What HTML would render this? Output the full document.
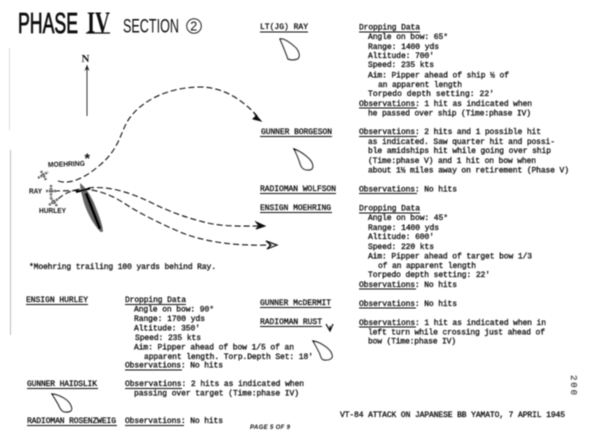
<!DOCTYPE html>
<html>
<head>
<meta charset="utf-8">
<style>
html,body{margin:0;padding:0;background:#fff;width:600px;height:438px;overflow:hidden}
svg{display:block}
.t{font-family:"Liberation Mono",monospace;font-size:8px;fill:#111;stroke:#111;stroke-width:.3}
.h{font-family:"Liberation Sans",sans-serif;fill:#111}
.s{font-family:"Liberation Sans",sans-serif;font-size:7px;font-weight:bold;fill:#111}
.d{fill:none;stroke:#111;stroke-width:1.1;stroke-dasharray:6 3}
.u{stroke:#111;stroke-width:1}
.p{fill:#fff;stroke:#000;stroke-width:1.2}
</style>
</head>
<body>
<svg width="600" height="438" viewBox="0 0 600 438" xmlns="http://www.w3.org/2000/svg">
<defs><filter id="b" x="-5%" y="-5%" width="110%" height="110%"><feGaussianBlur stdDeviation="0.4"/></filter></defs>
<rect width="600" height="438" fill="#fff"/>
<g filter="url(#b)">
<line x1="10.500" y1="150" x2="10.500" y2="335" stroke="#bbb" stroke-width="1"/>
<line x1="9.500" y1="48" x2="9.500" y2="130" stroke="#ddd" stroke-width="1"/>

<!-- Title -->
<text class="h" x="18" y="33" font-size="29" textLength="60" lengthAdjust="spacingAndGlyphs" stroke="#111" stroke-width=".8">PHASE</text>
<text x="87" y="32.500" font-family="Liberation Serif,serif" font-size="31" font-weight="bold" fill="#111" textLength="23" lengthAdjust="spacingAndGlyphs">IV</text>
<line x1="86" y1="33" x2="110" y2="33" stroke="#111" stroke-width="1.200"/>
<text class="h" x="123" y="32.500" font-size="19" textLength="56" lengthAdjust="spacingAndGlyphs">SECTION</text>
<circle cx="194" cy="26" r="7.300" fill="none" stroke="#222" stroke-width="1"/>
<text class="h" x="190.200" y="30.500" font-size="12.500">2</text>

<!-- North arrow -->
<text x="81.500" y="62" font-family="Liberation Serif,serif" font-size="11" font-weight="bold" fill="#111">N</text>
<line x1="87" y1="116" x2="87" y2="67" stroke="#333" stroke-width="1"/>
<path d="M84.500 71 L87 64.500 L89.500 71 L87 69Z" fill="#222"/>

<!-- Paths -->
<path class="d" d="M58 181 C70 185 85 178 100 165 C118 150 120 135 127 122 C140 100 170 87 200 87 C225 87 245 102 258 117"/>
<path d="M254 113 L261 121 L253 119 L256 116Z" fill="#111" stroke="#111" stroke-width="1"/>
<path class="d" d="M54 191 L80 190.500"/>
<path class="d" d="M88 188 C105 186 125 190 150 202 C170 212 185 217 200 221 C220 227 240 226 258 226"/>
<path d="M256 222 L265 226 L256 229 L259 226Z" fill="#111" stroke="#111"/>
<path class="d" d="M58 199 C66 192 75 189 85 189 C105 191 118 199 130 207 C145 216 165 226 185 234 C210 243 240 246 270 245"/>
<path d="M266 241 L277 245 L267 249 L271 245Z" fill="none" stroke="#111" stroke-width="1.200"/>

<!-- Ship -->
<path d="M80 183 C85 187 90 194 94 203 C98 213 102 222 103 231 C102 233 100 232 98 229 C92 222 87 212 84 203 C82 195 80 189 80 183Z" fill="#666"/>
<path d="M86 193 L100 229" stroke="#000" stroke-width="3"/>
<path d="M76 192 L90 188.500" stroke="#000" stroke-width="2"/>

<!-- Aircraft -->
<g stroke="#666" stroke-width="2.400" stroke-dasharray="2 .8" fill="none">
<path d="M38 178 L48 172"/><path d="M41 171 L46 180"/>
<path d="M51 185 L51 197"/><path d="M46 191 L56 191"/>
<path d="M57 206 L50 197"/><path d="M49 205 L58 199"/>
</g>
<text class="s" x="48" y="167" transform="rotate(-2 48 167)" textLength="37" lengthAdjust="spacingAndGlyphs">MOEHRING</text>
<text x="84.500" y="163" font-family="Liberation Sans,sans-serif" font-size="14" font-weight="bold" fill="#111">*</text>
<text class="s" x="29" y="193.500" textLength="13" lengthAdjust="spacingAndGlyphs">RAY</text>
<text class="s" x="39" y="213" textLength="27" lengthAdjust="spacingAndGlyphs">HURLEY</text>

<!-- Note -->
<text class="t" x="29" y="269" textLength="187" lengthAdjust="spacing">*Moehring trailing 100 yards behind Ray.</text>

<!-- Name labels -->
<text class="t" x="260" y="29" textLength="48" lengthAdjust="spacing">LT(JG) RAY</text><line class="u" x1="260" y1="32" x2="308" y2="32"/>
<text class="t" x="261" y="134" textLength="71" lengthAdjust="spacing">GUNNER BORGESON</text><line class="u" x1="260" y1="136.500" x2="332" y2="136.500"/>
<text class="t" x="260" y="191" textLength="76" lengthAdjust="spacing">RADIOMAN WOLFSON</text><line class="u" x1="260" y1="193.500" x2="336" y2="193.500"/>
<text class="t" x="260" y="210" textLength="71" lengthAdjust="spacing">ENSIGN MOEHRING</text><line class="u" x1="260" y1="212.500" x2="332" y2="212.500"/>
<text class="t" x="26" y="302" textLength="62" lengthAdjust="spacing">ENSIGN HURLEY</text><line class="u" x1="26" y1="304.500" x2="88" y2="304.500"/>
<text class="t" x="260" y="305" textLength="71" lengthAdjust="spacing">GUNNER McDERMIT</text><line class="u" x1="260" y1="307.500" x2="331" y2="307.500"/>
<text class="t" x="260" y="324" textLength="62" lengthAdjust="spacing">RADIOMAN RUST</text><line class="u" x1="260" y1="326.500" x2="322" y2="326.500"/>
<text class="t" x="27" y="386" textLength="70" lengthAdjust="spacing">GUNNER HAIDSLIK</text><line class="u" x1="27" y1="388.500" x2="98" y2="388.500"/>
<text class="t" x="27" y="423" textLength="89" lengthAdjust="spacing">RADIOMAN ROSENZWEIG</text><line class="u" x1="27" y1="425.500" x2="117" y2="425.500"/>

<!-- Ship outlines -->
<path class="p" d="M280 39 C284 38 292 44 296 48 C300 53 300 58 297 59 C294 60 291 60 288 59 C286 53 283 46 280 39Z"/>
<path class="p" d="M294 149 C300 151 310 158 312 163 C314 168 312 170 308 170 C304 170 302 168 301 166 C299 160 297 154 294 149Z"/>
<path class="p" d="M52 394 C60 395 69 400 71 406 C73 411 70 412 66 412 C63 412 62 411 60 408 C58 403 55 399 52 394Z"/>
<path class="p" d="M313 341 C320 342 331 349 332 355 C333 359 329 360 325 360 C322 360 321 358 320 354 C318 350 316 346 313 341Z"/>
<path d="M326 324 L330 331 L333 324 M330 326 V331" fill="none" stroke="#111" stroke-width="1.200"/>

<!-- Data: right column -->
<text class="t" x="359" y="29.500" textLength="61" lengthAdjust="spacing">Dropping Data</text><line class="u" x1="359" y1="32" x2="420" y2="32"/>
<text class="t" x="368" y="39" textLength="80" lengthAdjust="spacing">Angle on bow: 65°</text>
<text class="t" x="368" y="49" textLength="71" lengthAdjust="spacing">Range: 1400 yds</text>
<text class="t" x="368" y="58" textLength="66" lengthAdjust="spacing">Altitude: 700'</text>
<text class="t" x="368" y="67" textLength="66" lengthAdjust="spacing">Speed: 235 kts</text>
<text class="t" x="368" y="77.500" textLength="141" lengthAdjust="spacing">Aim: Pipper ahead of ship ½ of</text>
<text class="t" x="378" y="87" textLength="84" lengthAdjust="spacing">an apparent length</text>
<text class="t" x="368" y="96" textLength="126" lengthAdjust="spacing">Torpedo depth setting: 22'</text>
<text class="t" x="359" y="106" textLength="173" lengthAdjust="spacing">Observations: 1 hit as indicated when</text><line class="u" x1="359" y1="108" x2="417" y2="108"/>
<text class="t" x="368" y="115.500" textLength="163" lengthAdjust="spacing">he passed over ship (Time:phase IV)</text>

<text class="t" x="359" y="134" textLength="182" lengthAdjust="spacing">Observations: 2 hits and 1 possible hit</text><line class="u" x1="359" y1="136.500" x2="417" y2="136.500"/>
<text class="t" x="368" y="144" textLength="187" lengthAdjust="spacing">as indicated. Saw quarter hit and possi-</text>
<text class="t" x="368" y="153" textLength="183" lengthAdjust="spacing">ble amidships hit while going over ship</text>
<text class="t" x="368" y="163" textLength="168" lengthAdjust="spacing">(Time:phase V) and 1 hit on bow when</text>
<text class="t" x="368" y="172.500" textLength="201" lengthAdjust="spacing">about 1½ miles away on retirement (Phase V)</text>

<text class="t" x="359" y="191.500" textLength="98" lengthAdjust="spacing">Observations: No hits</text><line class="u" x1="359" y1="193.500" x2="417" y2="193.500"/>

<text class="t" x="359" y="210.500" textLength="61" lengthAdjust="spacing">Dropping Data</text><line class="u" x1="359" y1="213" x2="420" y2="213"/>
<text class="t" x="368" y="220" textLength="80" lengthAdjust="spacing">Angle on bow: 45°</text>
<text class="t" x="368" y="230" textLength="71" lengthAdjust="spacing">Range: 1400 yds</text>
<text class="t" x="368" y="239" textLength="66" lengthAdjust="spacing">Altitude: 600'</text>
<text class="t" x="368" y="249" textLength="66" lengthAdjust="spacing">Speed: 220 kts</text>
<text class="t" x="368" y="258.500" textLength="164" lengthAdjust="spacing">Aim: Pipper ahead of target bow 1/3</text>
<text class="t" x="378" y="268" textLength="98" lengthAdjust="spacing">of an apparent length</text>
<text class="t" x="368" y="277" textLength="122" lengthAdjust="spacing">Torpedo depth setting: 22'</text>
<text class="t" x="359" y="287" textLength="98" lengthAdjust="spacing">Observations: No hits</text><line class="u" x1="359" y1="289" x2="416" y2="289"/>
<text class="t" x="359" y="306" textLength="98" lengthAdjust="spacing">Observations: No hits</text><line class="u" x1="359" y1="308" x2="416" y2="308"/>
<text class="t" x="359" y="325" textLength="187" lengthAdjust="spacing">Observations: 1 hit as indicated when in</text><line class="u" x1="359" y1="327" x2="416" y2="327"/>
<text class="t" x="368" y="334.500" textLength="177" lengthAdjust="spacing">left turn while crossing just ahead of</text>
<text class="t" x="368" y="343.500" textLength="88" lengthAdjust="spacing">bow (Time:phase IV)</text>

<!-- Data: lower left -->
<text class="t" x="125" y="302" textLength="61" lengthAdjust="spacing">Dropping Data</text><line class="u" x1="125" y1="304.500" x2="186" y2="304.500"/>
<text class="t" x="134" y="311.500" textLength="80" lengthAdjust="spacing">Angle on bow: 90°</text>
<text class="t" x="134" y="321" textLength="71" lengthAdjust="spacing">Range: 1700 yds</text>
<text class="t" x="134" y="330.500" textLength="66" lengthAdjust="spacing">Altitude: 350'</text>
<text class="t" x="135" y="340" textLength="66" lengthAdjust="spacing">Speed: 235 kts</text>
<text class="t" x="134" y="349.500" textLength="160" lengthAdjust="spacing">Aim: Pipper ahead of bow 1/5 of an</text>
<text class="t" x="144" y="359" textLength="169" lengthAdjust="spacing">apparent length. Torp.Depth Set: 18'</text>
<text class="t" x="125" y="367.500" textLength="98" lengthAdjust="spacing">Observations: No hits</text><line class="u" x1="125" y1="370" x2="182" y2="370"/>
<text class="t" x="125" y="386" textLength="179" lengthAdjust="spacing">Observations: 2 hits as indicated when</text><line class="u" x1="125" y1="388.500" x2="182" y2="388.500"/>
<text class="t" x="134" y="395.500" textLength="165" lengthAdjust="spacing">passing over target (Time:phase IV)</text>
<text class="t" x="125" y="423" textLength="98" lengthAdjust="spacing">Observations: No hits</text><line class="u" x1="125" y1="425.500" x2="184" y2="425.500"/>

<!-- Footer -->
<text x="250" y="429" font-family="Liberation Sans,sans-serif" font-size="6" font-weight="bold" font-style="italic" fill="#111" textLength="40" lengthAdjust="spacing">PAGE 5 OF 9</text>
<text class="t" x="340" y="417" textLength="225" lengthAdjust="spacing">VT-84 ATTACK ON JAPANESE BB YAMATO, 7 APRIL 1945</text>
<text class="t" x="0" y="0" transform="translate(571 375) rotate(90)" textLength="20" lengthAdjust="spacing" style="font-size:9px;fill:#555;stroke:#555">200</text>
</g>
</svg>
</body>
</html>
